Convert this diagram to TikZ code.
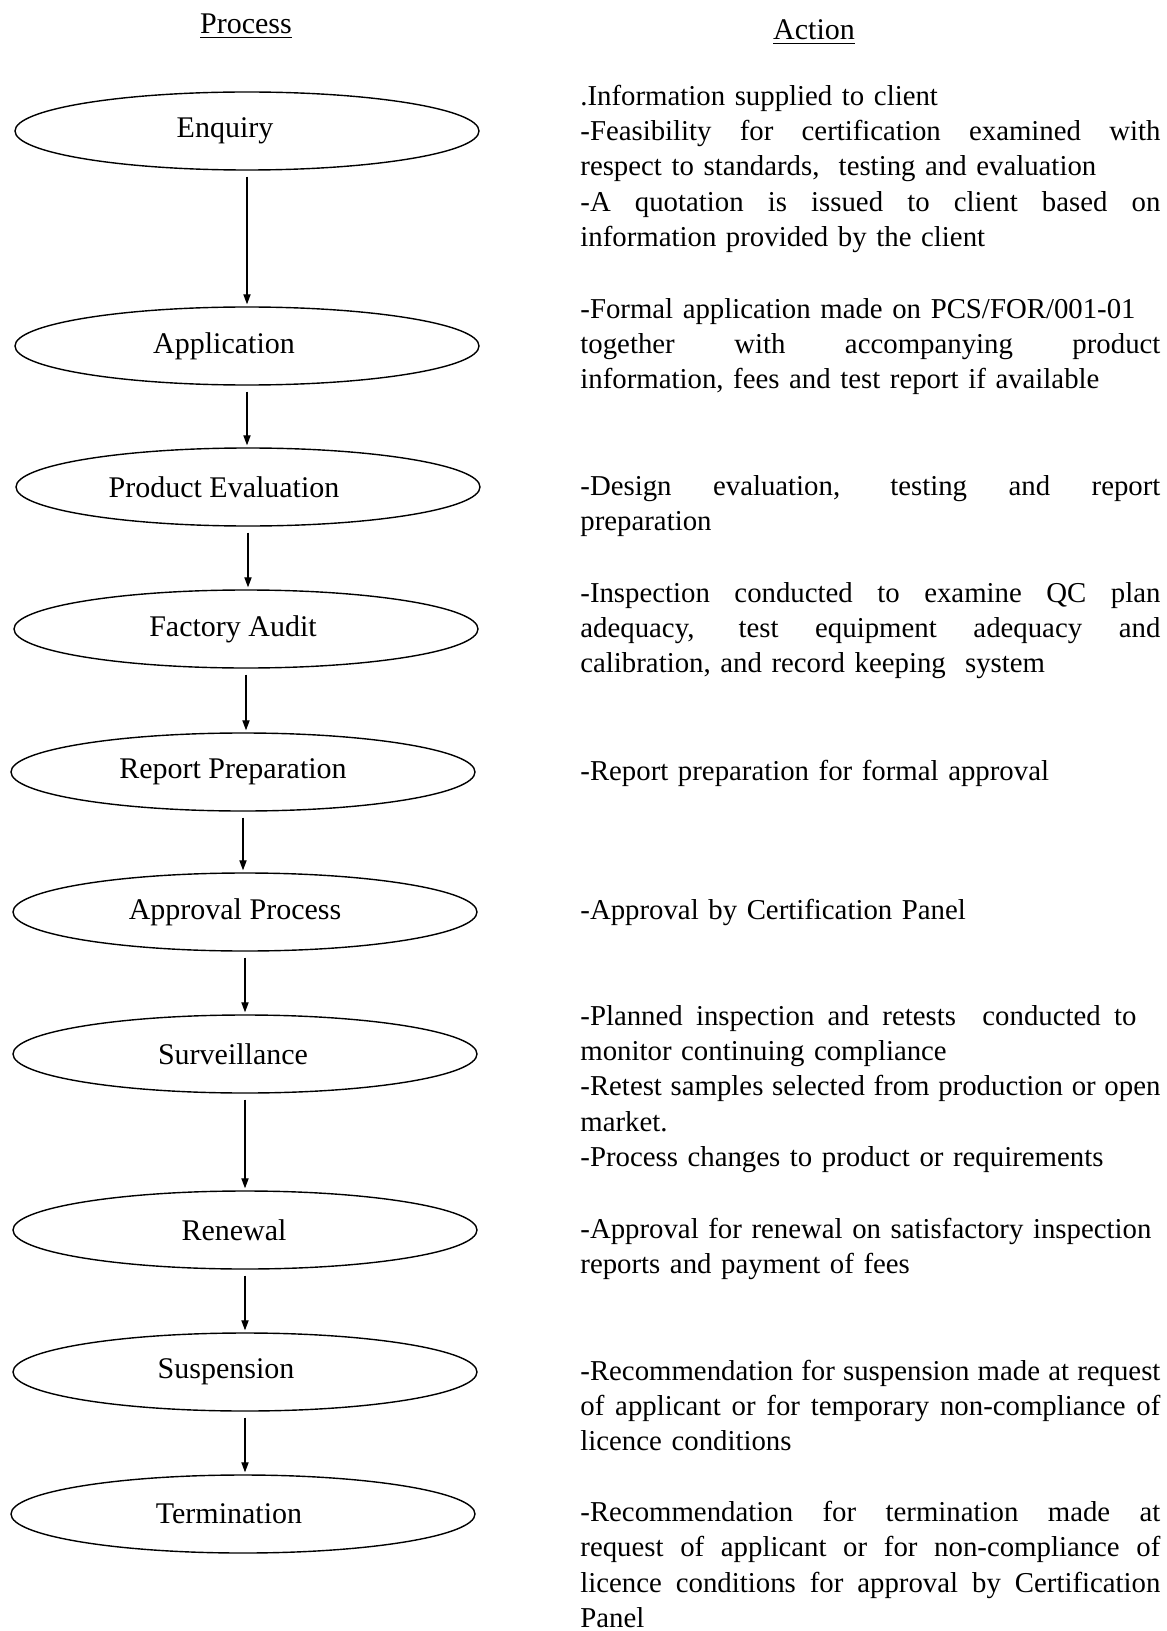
\documentclass[tikz,border=0pt]{standalone}
\usepackage{fontspec}
\setmainfont{Liberation Serif}
\usetikzlibrary{shapes.geometric,arrows.meta}

% one justified line of the action column
\newcommand{\jl}[2][290pt]{\makebox[#1][s]{\spaceskip=.25em plus 10em\relax #2}\\}

\begin{document}
\begin{tikzpicture}
  [x=0.5pt,y=-0.5pt,
   proc/.style={ellipse,draw,line width=0.7pt,minimum width=232pt,minimum height=39pt,inner sep=0pt},
   lab/.style={font=\fontsize{15}{18}\selectfont},
   act/.style={anchor=north west,text width=290pt,align=left,inner sep=0pt,font=\fontsize{14.4}{17.7}\selectfont},
   head/.style={anchor=base,inner sep=0pt,font=\fontsize{15}{18}\selectfont}]
  \useasboundingbox (0,0) rectangle (1166,1631);
  \node[head] (hp) at (246,34) {\underline{Process}};
  \node[head] (ha) at (814,40) {\underline{Action}};

  \node[proc,label={[lab,xshift=-11pt]center:Enquiry}] (enq) at (247,131) {};
  \node[proc,label={[lab,xshift=-11.5pt]center:Application}] (app) at (247,346) {};
  \node[proc,label={[lab,xshift=-12pt]center:Product Evaluation}] (eval) at (248,487) {};
  \node[proc,label={[lab,xshift=-6.5pt]center:Factory Audit}] (audit) at (246,629) {};
  \node[proc,label={[lab,xshift=-5pt]center:Report Preparation}] (rep) at (243,772) {};
  \node[proc,label={[lab,xshift=-5pt]center:Approval Process}] (appr) at (245,912) {};
  \node[proc,label={[lab,xshift=-6pt]center:Surveillance}] (surv) at (245,1054) {};
  \node[proc,label={[lab,xshift=-5.5pt]center:Renewal}] (ren) at (245,1230) {};
  \node[proc,label={[lab,xshift=-9.5pt]center:Suspension}] (susp) at (245,1372) {};
  \node[proc,label={[lab,xshift=-7pt]center:Termination}] (term) at (243,1514) {};

  \foreach \from/\to in {enq/app,app/eval,eval/audit,audit/rep,rep/appr,appr/surv,surv/ren,ren/susp,susp/term}
    \draw[-{Triangle[length=5pt,width=3.6pt]},line width=0.6pt,shorten <=3pt,shorten >=1pt]
      (\from.south) -- (\from.south |- \to.north);

  \node[act] (aenq) at (580,80) {\strut.Information supplied to client\\
    \jl{-Feasibility for certification examined with}
    respect to standards,\ \ testing and evaluation\\
    \jl{-A quotation is issued to client based on}
    information provided by the client};
  \node[act] (aapp) at (580,293) {\strut-Formal application made on PCS/FOR/001-01\\
    \jl{together with accompanying product}
    information, fees and test report if available};
  \node[act] (aeval) at (580,470) {\strut\jl{-Design evaluation, testing and report}
    preparation};
  \node[act] (aaudit) at (580,577) {\strut\jl{-Inspection conducted to examine QC plan}
    \jl{adequacy, test equipment adequacy and}
    calibration, and record keeping\ \ system};
  \node[act] (arep) at (580,755) {\strut-Report preparation for formal approval};
  \node[act] (aappr) at (580,894) {\strut-Approval by Certification Panel};
  \node[act] (asurv) at (580,1000) {\strut\jl[278pt]{-Planned inspection and retests\ \ conducted to}
    monitor continuing compliance\\
    \jl{-Retest samples selected from production or open}
    market.\\
    -Process changes to product or requirements};
  \node[act] (aren) at (580,1213) {\strut-Approval for renewal on satisfactory inspection\\
    reports and payment of fees};
  \node[act] (asusp) at (580,1355) {\strut\jl{-Recommendation for suspension made at request}
    \jl{of applicant or for temporary non-compliance of}
    licence conditions};
  \node[act] (aterm) at (580,1496) {\strut\jl{-Recommendation for termination made at}
    \jl{request of applicant or for non-compliance of}
    \jl{licence conditions for approval by Certification}
    Panel};
\end{tikzpicture}
\end{document}
